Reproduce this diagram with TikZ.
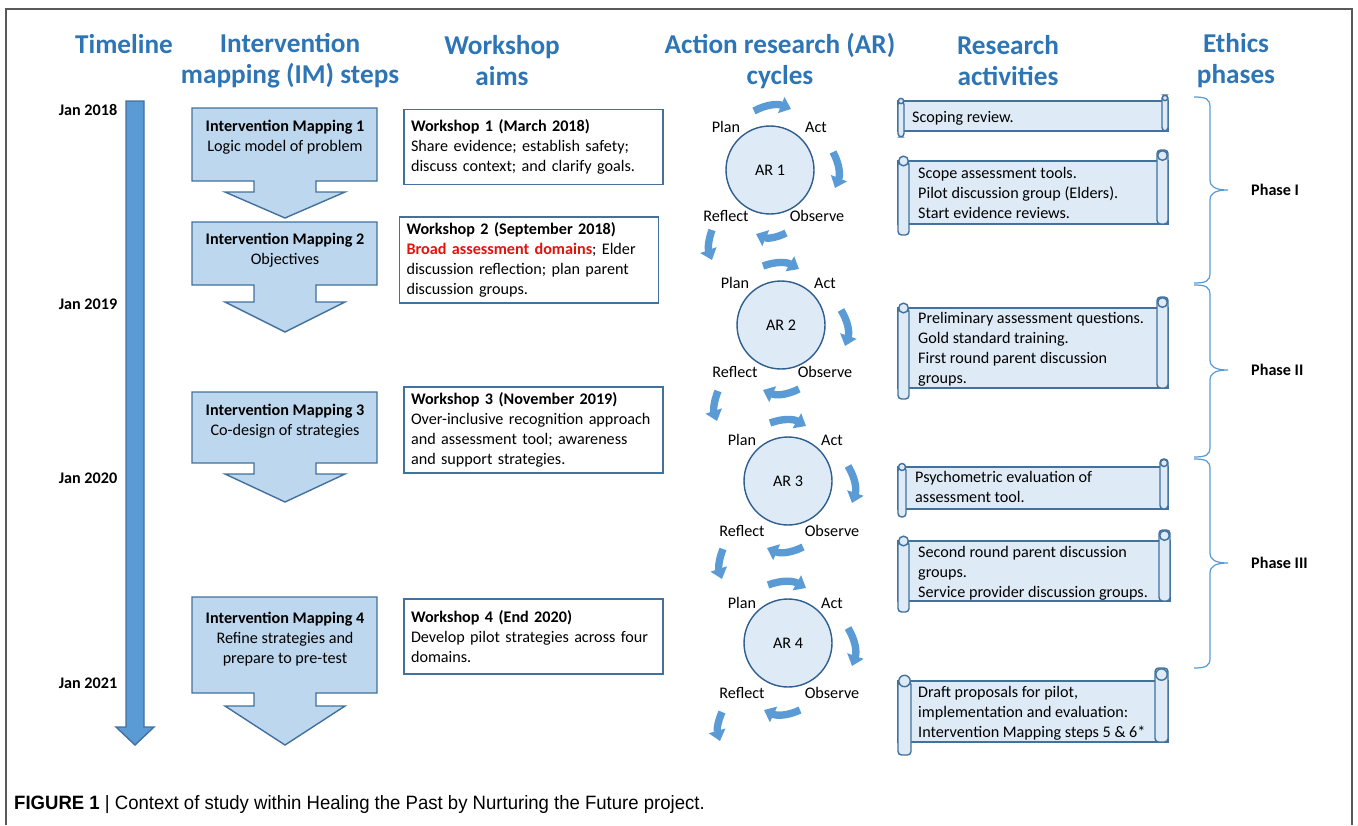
\documentclass[tikz,border=0pt]{standalone}
\usepackage{fontspec}
\setmainfont{Carlito}
\newfontfamily\capfont[FakeStretch=0.96]{Liberation Sans}
\usetikzlibrary{arrows.meta,calc}

\definecolor{hdrblue}{HTML}{2E75B6}
\definecolor{arrowblue}{HTML}{5B9BD5}
\definecolor{edgeblue}{HTML}{41719C}
\definecolor{circblue}{HTML}{2F5F8F}
\definecolor{imfill}{HTML}{BDD7EE}
\definecolor{paleblue}{HTML}{DEEBF7}
\definecolor{framegray}{HTML}{595959}
\definecolor{wsred}{HTML}{E3120B}

\tikzstyle{colhead}=[text=hdrblue,font=\fontsize{15.5}{17.6}\selectfont\bfseries,align=center]
\tikzstyle{datelabel}=[font=\fontsize{9.2}{11}\selectfont\bfseries]
\tikzstyle{imtext}=[font=\fontsize{9.2}{11.3}\selectfont,align=center]
\tikzstyle{imstep}=[draw=edgeblue,fill=imfill,line width=0.8pt]
\tikzstyle{workshop}=[draw=edgeblue,line width=0.8pt,fill=white,align=left,text width=4.9cm,inner xsep=0.14cm,minimum height=1.5cm,font=\fontsize{9.2}{11.3}\selectfont]
\tikzstyle{arcircle}=[circle,draw=circblue,fill=paleblue,line width=0.8pt,minimum size=1.76cm,font=\fontsize{9.2}{11}\selectfont]
\tikzstyle{stage}=[font=\fontsize{9.2}{11}\selectfont]
\tikzstyle{cyclearrow}=[draw=arrowblue,line width=4.2pt,-{Triangle[width=9.5pt,length=6pt]}]
\tikzstyle{scrollshape}=[draw=edgeblue,fill=paleblue,line width=0.8pt]
\tikzstyle{scrolltext}=[anchor=west,align=left,font=\fontsize{9.2}{11.3}\selectfont]
\tikzstyle{ethicsbrace}=[draw=arrowblue,line width=0.7pt]
\tikzstyle{phaselabel}=[anchor=west,font=\fontsize{9.2}{11}\selectfont\bfseries]
\tikzstyle{timeline}=[draw=edgeblue,fill=arrowblue,line width=0.8pt]
\tikzstyle{captiontext}=[anchor=west,font=\capfont\fontsize{11}{13}\selectfont]

% x0, top, x1, bottom, roll size
\newcommand{\rascroll}[5]{%
  \draw[scrollshape] (#1,#2+#5) rectangle (#3,#4-#5);
  \draw[scrollshape,rounded corners=2pt] (#3-#5,#4-#5) rectangle (#3,#2);
  \draw[scrollshape,rounded corners=2pt] (#1,#2+#5) rectangle (#1+#5,#4);
  \draw[scrollshape] (#3-#5/2,#2+#5/2) circle[radius=#5*0.25pt];
  \draw[scrollshape] (#1+#5/2,#2+#5) circle[radius=#5*0.25pt];}
% top, box bottom, stem bottom, tip
\newcommand{\imcallout}[4]{%
  \draw[imstep] (192,#1) -- (377,#1) -- (377,#2) -- (316,#2) -- (316,#3) -- (345,#3)
    -- (285,#4) -- (225,#3) -- (254,#3) -- (254,#2) -- (192,#2) -- cycle;}
% top, tip, bottom
\newcommand{\phasebrace}[3]{%
  \draw[ethicsbrace] (1194,#1) .. controls (1206,#1) and (1210,#1+2) .. (1210,#1+10)
    -- (1210,#2-10) .. controls (1210,#2-3) and (1216,#2) .. (1228,#2)
    .. controls (1216,#2) and (1210,#2+3) .. (1210,#2+10)
    -- (1210,#3-10) .. controls (1210,#3-2) and (1206,#3) .. (1194,#3);}

\begin{document}
\begin{tikzpicture}[x=0.02cm,y=-0.02cm]
                  \useasboundingbox (0,0) rectangle (1358,825);
                  \draw [framegray,line width=0.8pt] (6,825) -- (6,9) -- (1352,9) -- (1352,825);

                  % column heads
                  \node (hdtime) at (124,44) [colhead] {Timeline};
                  \node (hdim) at (290,61) [colhead] {Intervention\\mapping (IM) steps};
                  \node (hdws) at (502,61) [colhead] {Workshop\\aims};
                  \node (hdar) at (780,61) [colhead] {Action research (AR)\\cycles};
                  \node (hdra) at (1008,61) [colhead] {Research\\activities};
                  \node (hdeth) at (1236,61) [colhead] {Ethics\\phases};

                  % timeline
                  \draw [timeline] (126,101) -- (144,101) -- (144,727) -- (154,727) -- (135,745)
                        -- (116,727) -- (126,727) -- cycle;
                  \node (jan18) at (88,110) [datelabel] {Jan 2018};
                  \node (jan19) at (88,304) [datelabel] {Jan 2019};
                  \node (jan20) at (88,478) [datelabel] {Jan 2020};
                  \node (jan21) at (88,683) [datelabel] {Jan 2021};

                  % intervention mapping steps
                  \imcallout{108}{181}{192}{218}
                  \imcallout{222}{285}{302}{332}
                  \imcallout{392}{463}{474}{502}
                  \imcallout{597}{693}{706}{745}
                  \node (im1) at (285,137) [imtext] {\textbf{Intervention Mapping 1}\\Logic model of problem};
                  \node (im2) at (285,250) [imtext] {\textbf{Intervention Mapping 2}\\Objectives};
                  \node (im3) at (285,421) [imtext] {\textbf{Intervention Mapping 3}\\Co-design of strategies};
                  \node (im4) at (285,639) [imtext] {\textbf{Intervention Mapping 4}\\Refine strategies and\\prepare to pre-test};

                  % workshops
                  \node (ws1) at (533.5,147) [workshop] {\textbf{Workshop 1 (March 2018)}\\Share evidence; establish safety;\\discuss context; and clarify goals.};
                  \node (ws2) at (529,260) [workshop] {\textbf{Workshop 2 (September 2018)}\\\textcolor{wsred}{\textbf{Broad assessment domains}}; Elder\\discussion reflection; plan parent\\discussion groups.};
                  \node (ws3) at (533.5,430) [workshop] {\textbf{Workshop 3 (November 2019)}\\Over-inclusive recognition approach\\and assessment tool; awareness\\and support strategies.};
                  \node (ws4) at (533.5,636.5) [workshop] {\textbf{Workshop 4 (End 2020)}\\Develop pilot strategies across four\\domains.};

                  % action research cycles
                  \node (ar1) at (770,170) [arcircle] {AR 1};
                  \node (plan1) at ($(ar1)+(-44,-43)$) [stage] {Plan};
                  \node (act1) at ($(ar1)+(46,-43)$) [stage] {Act};
                  \node (refl1) at ($(ar1)+(-44,46)$) [stage] {Reflect};
                  \node (obs1) at ($(ar1)+(47,46)$) [stage] {Observe};
                  \draw [cyclearrow] ($(ar1)+(-16,-59)$) to[bend left=25] ($(ar1)+(21,-61)$);
                  \draw [cyclearrow] ($(ar1)+(63,-18)$) to[bend left=25] ($(ar1)+(65,18)$);
                  \draw [cyclearrow] ($(ar1)+(16,63)$) to[bend left=25] ($(ar1)+(-14,64)$);
                  \draw [cyclearrow] ($(ar1)+(-58,60)$) to[bend right=20] ($(ar1)+(-58,90)$);

                  \node (ar2) at (781,325) [arcircle] {AR 2};
                  \node (plan2) at ($(ar2)+(-46,-42)$) [stage] {Plan};
                  \node (act2) at ($(ar2)+(44,-42)$) [stage] {Act};
                  \node (refl2) at ($(ar2)+(-46,47)$) [stage] {Reflect};
                  \node (obs2) at ($(ar2)+(44,47)$) [stage] {Observe};
                  \draw [cyclearrow] ($(ar2)+(-18,-59)$) to[bend left=25] ($(ar2)+(18,-56)$);
                  \draw [cyclearrow] ($(ar2)+(60,-15)$) to[bend left=25] ($(ar2)+(64,21)$);
                  \draw [cyclearrow] ($(ar2)+(18,64)$) to[bend left=25] ($(ar2)+(-18,65)$);
                  \draw [cyclearrow] ($(ar2)+(-63,66)$) to[bend right=20] ($(ar2)+(-64,96)$);

                  \node (ar3) at (788,481) [arcircle] {AR 3};
                  \node (plan3) at ($(ar3)+(-46,-41)$) [stage] {Plan};
                  \node (act3) at ($(ar3)+(44,-41)$) [stage] {Act};
                  \node (refl3) at ($(ar3)+(-46,50)$) [stage] {Reflect};
                  \node (obs3) at ($(ar3)+(44,50)$) [stage] {Observe};
                  \draw [cyclearrow] ($(ar3)+(-18,-58)$) to[bend left=25] ($(ar3)+(18,-55)$);
                  \draw [cyclearrow] ($(ar3)+(60,-15)$) to[bend left=25] ($(ar3)+(64,22)$);
                  \draw [cyclearrow] ($(ar3)+(15,66)$) to[bend left=25] ($(ar3)+(-21,67)$);
                  \draw [cyclearrow] ($(ar3)+(-65,68)$) to[bend right=20] ($(ar3)+(-66,98)$);

                  \node (ar4) at (788,643) [arcircle] {AR 4};
                  \node (plan4) at ($(ar4)+(-46,-40)$) [stage] {Plan};
                  \node (act4) at ($(ar4)+(44,-40)$) [stage] {Act};
                  \node (refl4) at ($(ar4)+(-46,50)$) [stage] {Reflect};
                  \node (obs4) at ($(ar4)+(44,50)$) [stage] {Observe};
                  \draw [cyclearrow] ($(ar4)+(-20,-58)$) to[bend left=25] ($(ar4)+(18,-55)$);
                  \draw [cyclearrow] ($(ar4)+(60,-15)$) to[bend left=25] ($(ar4)+(64,23)$);
                  \draw [cyclearrow] ($(ar4)+(12,67)$) to[bend left=25] ($(ar4)+(-24,67)$);
                  \draw [cyclearrow] ($(ar4)+(-66,69)$) to[bend right=20] ($(ar4)+(-68,98)$);

                  % research activities
                  \rascroll{898}{95}{1168}{137}{6}
                  \rascroll{898}{150}{1168}{235}{11}
                  \rascroll{898}{297}{1168}{399}{11}
                  \rascroll{898}{459}{1168}{517}{8}
                  \rascroll{898}{530}{1170}{612}{11}
                  \rascroll{898}{668}{1168}{755}{13}
                  \node (ra1) at (906,118) [scrolltext] {Scoping review.};
                  \node (ra2) at (912,193) [scrolltext] {Scope assessment tools.\\Pilot discussion group (Elders).\\Start evidence reviews.};
                  \node (ra3) at (912,349) [scrolltext] {Preliminary assessment questions.\\Gold standard training.\\First round parent discussion\\groups.};
                  \node (ra4) at (909,487) [scrolltext] {Psychometric evaluation of\\assessment tool.};
                  \node (ra5) at (912,573) [scrolltext] {Second round parent discussion\\groups.\\Service provider discussion groups.};
                  \node (ra6) at (912,713) [scrolltext] {Draft proposals for pilot,\\implementation and evaluation:\\Intervention Mapping steps 5 \& 6*};

                  % ethics phases
                  \phasebrace{97}{190}{283}
                  \phasebrace{285}{370}{457}
                  \phasebrace{459}{563}{668}
                  \node (ph1) at (1245,190) [phaselabel] {Phase I};
                  \node (ph2) at (1245,370) [phaselabel] {Phase II};
                  \node (ph3) at (1245,563) [phaselabel] {Phase III};

                  \node (figcap) at (8,805) [captiontext] {\textbf{FIGURE 1} | Context of study within Healing the Past by Nurturing the Future project.};
              \end{tikzpicture}
\end{document}
